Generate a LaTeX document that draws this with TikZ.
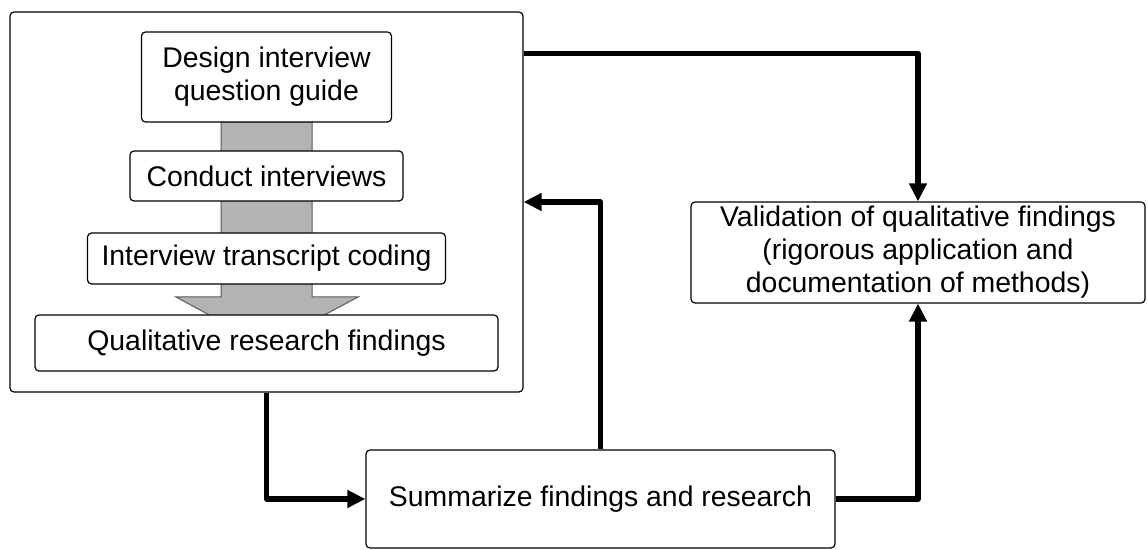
\documentclass[tikz,border=0pt]{standalone}
\usepackage{fontspec}
\setmainfont{Liberation Sans}
\usetikzlibrary{arrows.meta}
\definecolor{shaftGray}{HTML}{B3B3B3}
\definecolor{shaftEdge}{HTML}{5A5A5A}

\begin{document}
\begin{tikzpicture}[x=0.5pt, y=0.5pt,
    box/.style={draw, fill=white, rounded corners=2pt, line width=0.6pt, align=center,
        inner sep=0pt, font=\fontsize{14.2}{16.5}\selectfont},
    flow/.style={line width=2.6pt, line join=round, -{Triangle[length=9pt, width=8.5pt]}}]
            \useasboundingbox (0,0) rectangle (1148,550);
            \node[box, minimum width=256.5pt, minimum height=190pt] (outer) at (266.5,348) {};
            \fill[shaftGray, draw=shaftEdge, line width=0.5pt]
                (221,428) -- (312,428) -- (312,253) -- (358,253) -- (266.5,204) -- (176,253) -- (221,253) -- cycle;
            \node[box, minimum width=125pt, minimum height=45pt] (design) at (266.5,473) {Design interview\\question guide};
            \node[box, minimum width=136.5pt, minimum height=25pt] (conduct) at (266.5,374) {Conduct interviews};
            \node[box, minimum width=179pt, minimum height=25.5pt] (coding) at (266.5,291.5) {Interview transcript coding};
            \node[box, minimum width=231.5pt, minimum height=28pt] (findings) at (266.5,207) {Qualitative research findings};
            \node[box, minimum width=227pt, minimum height=50.5pt] (validation) at (918,297.5) {Validation of qualitative findings\\(rigorous application and\\documentation of methods)};
            \node[box, minimum width=234.5pt, minimum height=49pt] (summary) at (600.5,51) {Summarize findings and research};
            \draw[flow] ([yshift=-21pt]outer.north east) -| (validation.north);
            \draw[flow] (summary.north) |- (outer.east);
            \draw[flow] (outer.south) |- (summary.west);
            \draw[flow] (summary.east) -| (validation.south);
        \end{tikzpicture}
\end{document}
